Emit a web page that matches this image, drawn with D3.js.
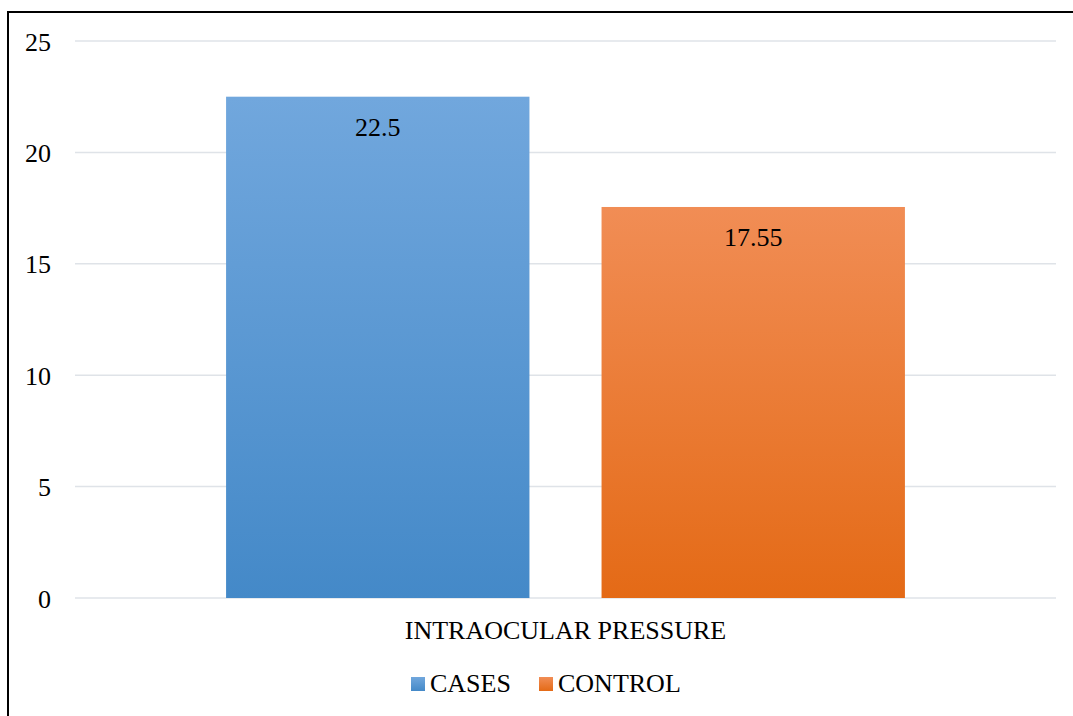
<!DOCTYPE html>
<html>
<head>
<meta charset="utf-8">
<script src="https://cdn.jsdelivr.net/npm/d3@7"></script>
</head>
<body>
<svg id="s" width="1073" height="716"></svg>
<script>
// Mean intraocular pressure by group
const categories = ["INTRAOCULAR PRESSURE"];
const seriesNames = ["CASES", "CONTROL"];
const casesValues = [22.5];
const controlValues = [17.55];
const yTicks = [0, 5, 10, 15, 20, 25];

const seriesColors = {
  CASES: { top: "#71a7dd", bottom: "#4489c8" },
  CONTROL: { top: "#f18d55", bottom: "#e46a16" }
};

const styleText = sel => sel
  .attr("font-family", "Times New Roman")
  .style("font", "26px 'Times New Roman'")
  .attr("fill", "#000");

const width = 1073, height = 716;
const margin = { left: 75, right: 17, top: 41, bottom: 118 };
const svg = d3.select("#s")
  .style("position", "absolute").style("left", "0px").style("top", "0px");

// Outer frame
svg.append("rect")
  .attr("x", 8).attr("y", 12)
  .attr("width", 1100).attr("height", 760)
  .attr("fill", "none").attr("stroke", "#000").attr("stroke-width", 2);

const defs = svg.append("defs");
seriesNames.forEach(name => {
  const g = defs.append("linearGradient")
    .attr("id", "grad-" + name)
    .attr("x1", 0).attr("y1", 0).attr("x2", 0).attr("y2", 1);
  g.append("stop").attr("offset", "0%").attr("stop-color", seriesColors[name].top);
  g.append("stop").attr("offset", "100%").attr("stop-color", seriesColors[name].bottom);
});

const y = d3.scaleLinear().domain([0, 25]).range([height - margin.bottom, margin.top]);
const x0 = d3.scaleBand().domain(categories)
  .range([margin.left, width - margin.right]).paddingInner(0).paddingOuter(0);
const bw0 = x0.bandwidth();
const x1 = d3.scaleBand().domain(seriesNames)
  .range([bw0 * 0.154, bw0 * 0.846]).paddingInner(0.192).paddingOuter(0);

// Gridlines
svg.append("g")
  .selectAll("line")
  .data(yTicks)
  .join("line")
  .attr("x1", margin.left).attr("x2", width - margin.right)
  .attr("y1", d => y(d)).attr("y2", d => y(d))
  .attr("stroke", "#dfe3e8").attr("stroke-width", 1.5);

// Y axis labels
const yAxis = d3.axisLeft(y).tickValues(yTicks).tickSize(0).tickPadding(0);
const yAxisG = svg.append("g")
  .attr("transform", `translate(${51},0)`)
  .call(yAxis)
  .attr("font-family", "Times New Roman");
yAxisG.select(".domain").remove();
yAxisG.selectAll("text")
  .call(styleText)
  .attr("dy", "0.35em");

const rows = categories.map((c, i) => ({
  category: c,
  values: [
    { name: "CASES", value: casesValues[i] },
    { name: "CONTROL", value: controlValues[i] }
  ]
}));

const groups = svg.append("g").selectAll("g")
  .data(rows).join("g")
  .attr("transform", d => `translate(${x0(d.category)},0)`);

groups.selectAll("rect")
  .data(d => d.values).join("rect")
  .attr("x", d => x1(d.name))
  .attr("width", x1.bandwidth())
  .attr("y", d => y(d.value))
  .attr("height", d => y(0) - y(d.value))
  .attr("fill", d => `url(#grad-${d.name})`);

groups.selectAll("text.value")
  .data(d => d.values).join("text")
  .attr("class", "value")
  .attr("x", d => x1(d.name) + x1.bandwidth() / 2)
  .attr("y", d => y(d.value) + 39)
  .attr("text-anchor", "middle")
  .call(styleText)
  .text(d => d.value);

// Category axis label
const xAxis = d3.axisBottom(x0).tickSize(0).tickPadding(0);
const xAxisG = svg.append("g")
  .attr("transform", `translate(0,${y(0) + 41})`)
  .call(xAxis)
  .attr("font-family", "Times New Roman");
xAxisG.select(".domain").remove();
xAxisG.selectAll("text")
  .call(styleText)
  .attr("dy", 0);

// Legend
const legendItems = [
  { name: "CASES", x: 411 },
  { name: "CONTROL", x: 539 }
];
const legend = svg.append("g").selectAll("g")
  .data(legendItems).join("g")
  .attr("transform", d => `translate(${d.x},677)`);
legend.append("rect")
  .attr("width", 14).attr("height", 14)
  .attr("fill", d => `url(#grad-${d.name})`);
legend.append("text")
  .attr("x", 19).attr("y", 15)
  .call(styleText)
  .text(d => d.name);
</script>
</body>
</html>
